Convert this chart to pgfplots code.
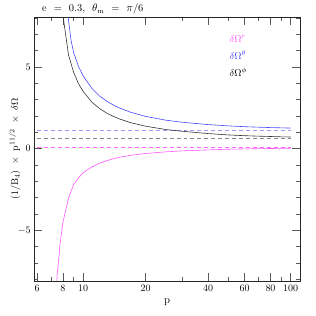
\documentclass[border=0pt]{standalone}
\usepackage{pgfplots}
\pgfplotsset{compat=1.18}
\definecolor{cmag}{HTML}{FF55FF}
\definecolor{cmagd}{HTML}{FF66FF}
\definecolor{cblu}{HTML}{4848FF}
\definecolor{cblud}{HTML}{9A9AFF}
\definecolor{cblk}{HTML}{333333}
\definecolor{cblkd}{HTML}{888888}
\begin{document}
\begin{tikzpicture}
\begin{axis}[
  scale only axis, width=266bp, height=264bp,
  at={(0,0)}, anchor=south west,
  xmode=log, xmin=5.8, xmax=111,
  ymin=-8.1, ymax=8.05,
  xtick={6,8,10,20,40,60,80,100},
  xticklabels={6,8,10,20,40,60,80,100},
  minor xtick={7,9,30,50,70,90},
  ytick={-5,0,5},
  minor ytick={-8,-7,-6,-4,-3,-2,-1,1,2,3,4,6,7,8},
  tick align=inside,
  major tick length=8bp, minor tick length=4bp,
  tick style={black!65, line width=0.5pt},
  axis line style={black!85, line width=0.6pt},
  tick label style={font=\fontsize{10}{12}\selectfont},
  xlabel={p},
  ylabel={$(1/\mathrm{B}_4)\ \times\ \mathrm{p}^{11/2}\ \times\ \delta\Omega$},
  every axis x label/.style={at={(axis description cs:0.5,-0.08)}, anchor=center, font=\fontsize{11}{13}\selectfont},
  every axis y label/.style={at={(axis description cs:-0.072,0.5)}, rotate=90, anchor=center, font=\fontsize{10}{12}\selectfont},
]
% dashed asymptotes
\addplot[cmagd, line width=0.8pt, dash pattern=on 4pt off 3pt] coordinates {(6,0.05) (100,0.05)};
\addplot[cblkd, line width=0.8pt, dash pattern=on 4pt off 3pt] coordinates {(6,0.63) (100,0.63)};
\addplot[cblud, line width=0.8pt, dash pattern=on 4pt off 3pt] coordinates {(6,1.13) (100,1.13)};
% delta Omega r
\addplot[cmag, line width=0.6pt] coordinates {
(7.4,-8.9) (7.5,-7.75) (7.6,-7.0) (7.75,-5.8) (8.0,-4.5) (8.25,-3.75) (8.5,-3.05)
(9.0,-2.2) (9.5,-1.8) (10,-1.47) (11,-1.13) (12,-0.9) (13,-0.74) (14,-0.62)
(15,-0.53) (17,-0.41) (20,-0.30) (25,-0.20) (30,-0.14) (40,-0.08) (50,-0.04)
(60,-0.02) (70,-0.005) (80,0.005) (90,0.015) (100,0.02)};
% delta Omega theta
\addplot[cblu, line width=0.6pt] coordinates {
(8.3,9.3) (8.5,7.9) (8.75,6.62) (9.0,5.88) (9.5,5.03) (10,4.45) (11,3.70) (12,3.22)
(13,2.90) (14,2.66) (15,2.48) (17,2.22) (20,1.97) (25,1.74) (30,1.61) (40,1.47)
(50,1.39) (60,1.34) (70,1.31) (80,1.285) (90,1.27) (100,1.255)};
% delta Omega phi
\addplot[cblk, line width=0.6pt] coordinates {
(7.9,8.73) (8.0,8.13) (8.5,5.75) (9.0,4.67) (9.5,3.97) (10,3.51) (11,2.85) (12,2.45)
(13,2.17) (14,1.97) (15,1.81) (17,1.58) (20,1.37) (25,1.17) (30,1.06) (40,0.92)
(50,0.835) (60,0.79) (70,0.76) (80,0.74) (90,0.72) (100,0.71)};
% legend text
\node[anchor=west, text=cmag, font=\fontsize{10}{12}\selectfont] at (rel axis cs:0.722,0.917) {$\delta\Omega^{r}$};
\node[anchor=west, text=cblu, font=\fontsize{10}{12}\selectfont] at (rel axis cs:0.722,0.856) {$\delta\Omega^{\theta}$};
\node[anchor=west, text=black, font=\fontsize{10}{12}\selectfont] at (rel axis cs:0.722,0.792) {$\delta\Omega^{\phi}$};
\end{axis}
% title
\node[anchor=base west, font=\fontsize{10.5}{12}\selectfont, inner sep=0pt] at (8bp,269bp) {e\ \ =\ \ 0.3,\ \ $\theta_{\mathrm{m}}$\ \ =\ \ $\pi$/6};
\pgfresetboundingbox
\path[use as bounding box] (-34bp,-35bp) rectangle (282bp,281bp);
\end{tikzpicture}
\end{document}
